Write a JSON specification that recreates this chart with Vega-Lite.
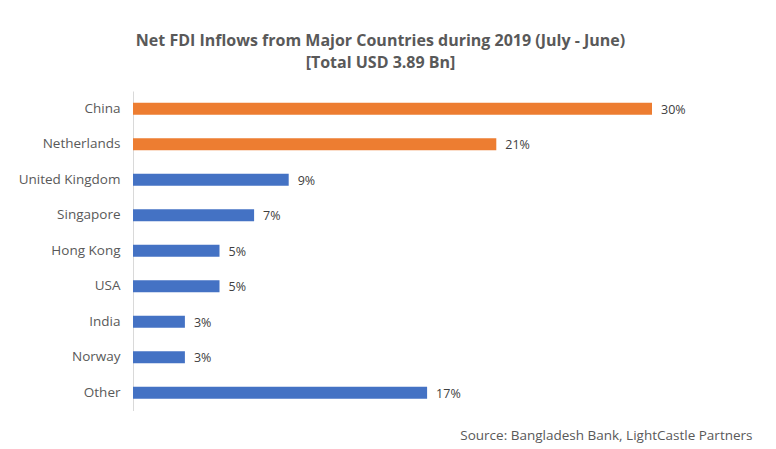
{
  "$schema": "https://vega.github.io/schema/vega-lite/v6.json",
  "autosize": {"type": "none"},
  "width": 519,
  "height": 319.5,
  "padding": {"left": 133, "top": 91, "right": 124, "bottom": 39},
  "background": "white",
  "config": {"view": {"stroke": null}, "font": "Open Sans"},
  "title": {
    "text": ["Net FDI Inflows from Major Countries during 2019 (July - June)", "[Total USD 3.89 Bn]"],
    "anchor": "middle",
    "dx": -12,
    "offset": 20,
    "fontSize": 16,
    "fontWeight": "bold",
    "color": "#595959",
    "lineHeight": 22,
    "font": "Open Sans"
  },
  "data": {
    "values": [
      {"country": "China", "value": 0.30, "group": "top"},
      {"country": "Netherlands", "value": 0.21, "group": "top"},
      {"country": "United Kingdom", "value": 0.09, "group": "rest"},
      {"country": "Singapore", "value": 0.07, "group": "rest"},
      {"country": "Hong Kong", "value": 0.05, "group": "rest"},
      {"country": "USA", "value": 0.05, "group": "rest"},
      {"country": "India", "value": 0.03, "group": "rest"},
      {"country": "Norway", "value": 0.03, "group": "rest"},
      {"country": "Other", "value": 0.17, "group": "rest"}
    ]
  },
  "encoding": {
    "y": {
      "field": "country",
      "type": "nominal",
      "sort": null,
      "scale": {"paddingInner": 0.66, "paddingOuter": 0.33},
      "axis": {
        "title": null,
        "ticks": false,
        "labelPadding": 13,
        "labelFontSize": 13.5,
        "labelColor": "#595959",
        "domainColor": "#D9D9D9",
        "domainWidth": 1
      }
    },
    "x": {
      "field": "value",
      "type": "quantitative",
      "scale": {"domain": [0, 0.3], "nice": false},
      "axis": {
        "title": "Source:  Bangladesh Bank, LightCastle Partners",
        "labels": false,
        "ticks": false,
        "domain": false,
        "grid": false,
        "titleX": 619,
        "titleY": 29,
        "titleAlign": "right",
        "titleBaseline": "alphabetic",
        "titleAnchor": null,
        "titleFontSize": 13.5,
        "titleFontWeight": "normal",
        "titleColor": "#595959"
      }
    }
  },
  "layer": [
    {
      "mark": {"type": "bar"},
      "encoding": {
        "color": {
          "field": "group",
          "type": "nominal",
          "scale": {"domain": ["top", "rest"], "range": ["#ED7D31", "#4472C4"]},
          "legend": null
        }
      }
    },
    {
      "mark": {"type": "text", "align": "left", "dx": 9, "dy": 1, "fontSize": 12.5, "color": "#404040"},
      "encoding": {
        "text": {"field": "value", "type": "quantitative", "format": ".0%"}
      }
    }
  ]
}
